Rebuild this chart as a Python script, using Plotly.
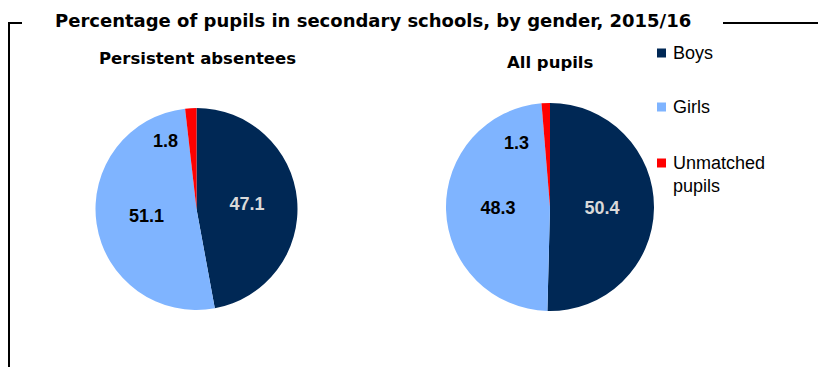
import plotly.graph_objects as go

# Shares of pupils by gender (%)
categories = ["Boys", "Girls", "Unmatched pupils"]
legend_labels = ["Boys", "Girls", "Unmatched<br>pupils"]
persistent_absentees = [47.1, 51.1, 1.8]
all_pupils = [50.4, 48.3, 1.3]
panel_titles = ["Persistent absentees", "All pupils"]
main_title = "Percentage of pupils in secondary schools, by gender, 2015/16"

colors = ["#002855", "#7FB4FF", "#FF0000"]
text_colors = ["#D9D9D9", "#000000", "#000000"]
FONT = "Liberation Sans, Arial, sans-serif"
TITLE_FONT = "DejaVu Sans, Liberation Sans, sans-serif"

W, H = 819, 367


def px_x(x):
    return x / W


def px_y(y):
    return 1 - y / H


fig = go.Figure()

# pie placement: centre (px) and radius (px)
pies = [
    (persistent_absentees, 196.5, 209, 101),
    (all_pupils, 550, 207, 104),
]
small_label_pos = [(165, 141), (516, 143)]

for (vals, cx, cy, r) in pies:
    fig.add_trace(go.Pie(
        labels=categories,
        values=vals,
        sort=False,
        direction="clockwise",
        rotation=0,
        marker=dict(colors=colors, line=dict(width=0)),
        texttemplate="<b>%{value:.1f}</b>",
        textposition=["inside", "inside", "none"],
        insidetextorientation="horizontal",
        insidetextfont=dict(family=FONT, size=18, color=text_colors),
        hoverinfo="label+value",
        showlegend=False,
        domain=dict(x=[px_x(cx - r), px_x(cx + r)],
                    y=[px_y(cy + r), px_y(cy - r)]),
    ))

annotations = []
# small-slice value labels
for (vals, *_), (lx, ly) in zip(pies, small_label_pos):
    annotations.append(dict(
        x=px_x(lx), y=px_y(ly), xref="paper", yref="paper",
        text=f"<b>{vals[2]:.1f}</b>", showarrow=False,
        font=dict(family=FONT, size=18, color="#000000"),
        xanchor="center", yanchor="middle"))

# panel titles
for t, (x, y) in zip(panel_titles, [(197, 58), (550, 62)]):
    annotations.append(dict(
        x=px_x(x), y=px_y(y), xref="paper", yref="paper",
        text=f"<b>{t}</b>", showarrow=False,
        font=dict(family=TITLE_FONT, size=16.5, color="#000000"),
        xanchor="center", yanchor="middle"))

# main title
annotations.append(dict(
    x=px_x(373), y=px_y(20), xref="paper", yref="paper",
    text=f"<b>{main_title}</b>", showarrow=False,
    font=dict(family=TITLE_FONT, size=18, color="#000000"),
    xanchor="center", yanchor="middle"))

shapes = []
# legend
legend_y = [53, 107, 163]
for lab, col, y in zip(legend_labels, colors, legend_y):
    shapes.append(dict(type="rect", xref="paper", yref="paper",
                       x0=px_x(657), x1=px_x(666), y0=px_y(y + 4.5), y1=px_y(y - 4.5),
                       fillcolor=col, line=dict(width=0)))
    annotations.append(dict(
        x=px_x(671), y=px_y(y - 12), xref="paper", yref="paper",
        text=lab, showarrow=False, align="left",
        font=dict(family=FONT, size=18, color="#000000"),
        xanchor="left", yanchor="top"))

# frame lines
line_style = dict(color="#000000", width=2)
shapes.append(dict(type="line", xref="paper", yref="paper",
                   x0=px_x(9), x1=px_x(9), y0=px_y(23), y1=px_y(367), line=line_style))
shapes.append(dict(type="line", xref="paper", yref="paper",
                   x0=px_x(8), x1=px_x(22), y0=px_y(23), y1=px_y(23), line=line_style))
shapes.append(dict(type="line", xref="paper", yref="paper",
                   x0=px_x(723), x1=px_x(818), y0=px_y(23), y1=px_y(23), line=line_style))

fig.update_layout(
    width=W, height=H,
    margin=dict(l=0, r=0, t=0, b=0),
    paper_bgcolor="white", plot_bgcolor="white",
    annotations=annotations, shapes=shapes,
    font=dict(family=FONT),
)

fig.write_html("out.html", config={"displayModeBar": False})
